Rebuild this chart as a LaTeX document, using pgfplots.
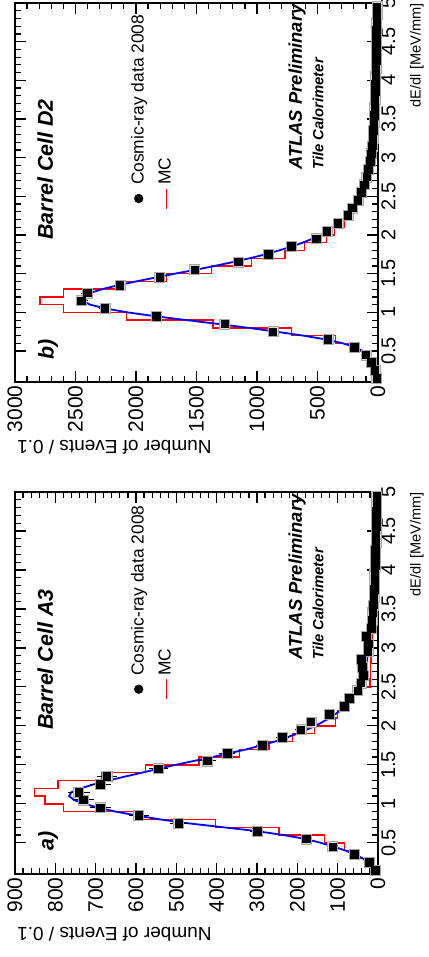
\documentclass[border=0pt]{standalone}
\usepackage{pgfplots}
\pgfplotsset{compat=1.18}
\usepackage{pgfplotstable}
\usepackage{fontspec}
\setmainfont{Liberation Sans}

% ---------------- Panel a) Barrel Cell A3 ----------------
\pgfplotstableread{
x y ey
0.15 6 2.4
0.25 22 4.7
0.35 58 7.6
0.45 112 10.6
0.55 178 13.3
0.65 299 17.3
0.75 494 22.2
0.85 593 24.4
0.95 689 26.2
1.05 730 27.0
1.15 742 27.2
1.25 689 26.2
1.35 672 25.9
1.45 544 23.3
1.55 423 20.6
1.65 374 19.3
1.75 286 16.9
1.85 237 15.4
1.95 191 13.8
2.05 166 12.9
2.15 120 11.0
2.25 83 9.1
2.35 71 8.4
2.45 50 7.1
2.55 42 6.5
2.65 36 6.0
2.75 38 6.2
2.85 41 6.4
2.95 25 5.0
3.05 24 4.9
3.15 29 5.4
3.25 17 4.1
3.35 15 3.9
3.45 13 3.6
3.55 12 3.5
3.65 10 3.2
3.75 9 3.0
3.85 8 2.8
3.95 8 2.8
4.05 7 2.6
4.15 6 2.4
4.25 6 2.4
4.35 5 2.2
4.45 5 2.2
4.55 4 2.0
4.65 4 2.0
4.75 4 2.0
4.85 3 1.7
4.95 3 1.7
}\dataA

\pgfplotstableread{
x y
0.1 10
0.2 30
0.3 50
0.4 83
0.5 133
0.6 245
0.7 403
0.8 598
0.9 780
1.0 826
1.1 851
1.2 793
1.3 685
1.4 577
1.5 444
1.6 344
1.7 270
1.8 212
1.9 157
2.0 105
2.1 100
2.2 75
2.3 60
2.4 45
2.5 20
2.6 19
2.7 18
2.8 17
2.9 16
3.0 15
3.1 13
3.2 12
3.3 11
3.4 10
3.5 9
3.6 8
3.7 8
3.8 7
3.9 7
4.0 6
4.1 6
4.2 5
4.3 5
4.4 5
4.5 4
4.6 4
4.7 4
4.8 3
4.9 3
5.0 3
}\mcA

\pgfplotstableread{
x y
0.1 2
0.15 6
0.2 14
0.25 25
0.3 38
0.35 57
0.4 80
0.45 110
0.5 142
0.55 180
0.6 235
0.65 300
0.7 385
0.75 470
0.8 540
0.85 598
0.9 650
0.95 693
1.0 728
1.05 754
1.1 766
1.15 760
1.2 736
1.25 705
1.3 668
1.35 627
1.4 585
1.45 544
1.5 502
1.6 411
1.7 325
1.8 255
1.9 200
2.0 155
2.1 120
2.2 92
2.3 72
2.4 58
2.5 47
2.6 40
2.7 34
2.8 29
3.0 22
3.25 16
3.5 12
3.75 9
4.0 7
4.5 5
5.0 3
}\fitA

% ---------------- Panel b) Barrel Cell D2 ----------------
\pgfplotstableread{
x y ey
0.15 10 3.2
0.25 25 5.0
0.35 55 7.4
0.45 100 10.0
0.55 193 13.9
0.65 413 20.3
0.75 867 29.4
0.85 1266 35.6
0.95 1830 42.8
1.05 2257 47.5
1.15 2449 49.5
1.25 2402 49.0
1.35 2133 46.2
1.45 1803 42.5
1.55 1514 38.9
1.65 1156 34.0
1.75 908 30.1
1.85 716 26.8
1.95 509 22.6
2.05 421 20.5
2.15 330 18.2
2.25 248 15.7
2.35 212 14.6
2.45 165 12.8
2.55 138 11.7
2.65 112 10.6
2.75 92 9.6
2.85 78 8.8
2.95 64 8.0
3.05 56 7.5
3.15 48 6.9
3.25 42 6.5
3.35 37 6.1
3.45 33 5.7
3.55 30 5.5
3.65 27 5.2
3.75 24 4.9
3.85 22 4.7
3.95 20 4.5
4.05 18 4.2
4.15 17 4.1
4.25 15 3.9
4.35 14 3.7
4.45 13 3.6
4.55 12 3.5
4.65 11 3.3
4.75 10 3.2
4.85 9 3.0
4.95 9 3.0
}\dataB

\pgfplotstableread{
x y
0.1 5
0.2 15
0.3 41
0.4 96
0.5 206
0.6 350
0.7 716
0.8 1362
0.9 2078
1.0 2600
1.1 2793
1.2 2600
1.3 2147
1.4 1748
1.5 1376
1.6 1046
1.7 770
1.8 605
1.9 427
2.0 358
2.1 275
2.2 234
2.3 184
2.4 151
2.5 124
2.6 100
2.7 83
2.8 70
2.9 58
3.0 50
3.1 43
3.2 38
3.3 33
3.4 29
3.5 26
3.6 23
3.7 21
3.8 19
3.9 17
4.0 16
4.1 14
4.2 13
4.3 12
4.4 11
4.5 10
4.6 10
4.7 9
4.8 8
4.9 8
5.0 8
}\mcB

\pgfplotstableread{
x y
0.1 5
0.2 18
0.3 42
0.4 80
0.45 98
0.5 125
0.55 190
0.6 290
0.65 430
0.7 620
0.75 840
0.8 1070
0.85 1320
0.9 1580
0.95 1840
1.0 2070
1.05 2250
1.1 2380
1.15 2440
1.2 2435
1.25 2380
1.3 2280
1.35 2150
1.4 2000
1.45 1840
1.5 1680
1.55 1510
1.6 1350
1.65 1200
1.7 1060
1.75 930
1.8 820
1.85 715
1.9 625
1.95 545
2.0 475
2.1 365
2.2 285
2.3 225
2.4 180
2.5 145
2.6 118
2.7 98
2.8 82
3.0 60
3.25 44
3.5 34
4.0 21
4.5 14
5.0 10
}\fitB

\tikzset{
  txtbig/.style={anchor=west, inner sep=0pt, font=\fontsize{10.7}{12}\selectfont\bfseries\itshape},
  txtatlas/.style={anchor=west, inner sep=0pt, font=\fontsize{9.2}{11}\selectfont\bfseries\itshape},
  txttile/.style={anchor=west, inner sep=0pt, font=\fontsize{7.4}{9}\selectfont\bfseries\itshape},
}

\pgfplotsset{
  atlas/.style={
    scale only axis,
    height=181.5pt,
    xmin=0.1, xmax=5, ymin=0,
    xtick={0.5,1,...,5},
    minor x tick num=4, minor y tick num=4,
    tick align=inside, tick pos=both,
    major tick length=5.5pt, minor tick length=2.8pt,
    axis line style={line width=1pt},
    every tick/.style={black, line width=0.6pt},
    /pgf/number format/assume math mode=true,
    /pgf/number format/1000 sep={},
    xticklabel style={font=\fontsize{10}{12}\selectfont, inner sep=1.5pt},
    yticklabel style={font=\fontsize{10.5}{12}\selectfont, inner sep=1.5pt},
    xlabel={dE/dl [MeV/mm]},
    xlabel style={font=\fontsize{7.3}{9}\selectfont, at={(axis description cs:1.0,-0.107)}, anchor=east, inner sep=0pt},
    ylabel={Number of Events / 0.1},
    ylabel style={font=\fontsize{9.5}{11}\selectfont, anchor=east, inner sep=0pt},
    legend cell align=left,
    legend style={draw=none, fill=none, inner sep=0pt, row sep=3pt,
      font=\fontsize{8.7}{10}\selectfont,
      at={(rel axis cs:0.455,0.69)}, anchor=north west,
      nodes={inner sep=1.5pt}},
  },
  datapts/.style={only marks, mark=square*, mark size=1.9pt, black,
    error bars/.cd, x dir=both, x fixed=0.05, y dir=both, y explicit,
    error mark=none, error bar style={line width=0.5pt, black}},
  sysbox/.style={only marks, mark=square*, mark size=2.5pt,
    mark options={fill=gray!30, draw=gray!70, line width=0.4pt}, forget plot},
  mcline/.style={red, line width=0.7pt, const plot, forget plot},
  fitline/.style={blue, line width=0.9pt, forget plot},
}

\begin{document}
\begin{tikzpicture}
\begin{scope}[transform canvas={rotate=90}]
% ---------- a) ----------
\begin{axis}[atlas, width=191pt, at={(41.5pt,25pt)}, anchor=south west,
  ymax=900, ytick={0,100,...,900},
  ylabel style={at={(axis description cs:-0.157,0.995)}}]
  \addlegendimage{legend image code/.code={\fill[black] (5pt,0pt) circle (2.1pt);}}
  \addlegendentry{Cosmic-ray data 2008}
  \addlegendimage{legend image code/.code={\draw[red, line width=0.6pt] (0pt,0pt) -- (10pt,0pt);}}
  \addlegendentry{MC}
  \addplot[sysbox] table[x=x, y=y] {\dataA};
  \addplot[mcline] table[x=x, y=y] {\mcA};
  \addplot[fitline] table[x=x, y=y] {\fitA};
  \addplot[forget plot, datapts] table[x=x, y=y, y error=ey] {\dataA};
  \node[txtbig] at (rel axis cs:0.06,0.909) {a)};
  \node[txtbig] at (rel axis cs:0.376,0.917) {Barrel Cell A3};
  \node[txtatlas] at (rel axis cs:0.56,0.223) {ATLAS Preliminary};
  \node[txttile] at (rel axis cs:0.56,0.165) {Tile Calorimeter};
\end{axis}
% ---------- b) ----------
\begin{axis}[atlas, width=189.5pt, at={(287.5pt,25pt)}, anchor=south west,
  ymax=3000, ytick={0,500,...,3000},
  ylabel style={at={(axis description cs:-0.171,0.995)}}]
  \addlegendimage{legend image code/.code={\fill[black] (5pt,0pt) circle (2.1pt);}}
  \addlegendentry{Cosmic-ray data 2008}
  \addlegendimage{legend image code/.code={\draw[red, line width=0.6pt] (0pt,0pt) -- (10pt,0pt);}}
  \addlegendentry{MC}
  \addplot[sysbox] table[x=x, y=y] {\dataB};
  \addplot[mcline] table[x=x, y=y] {\mcB};
  \addplot[fitline] table[x=x, y=y] {\fitB};
  \addplot[forget plot, datapts] table[x=x, y=y, y error=ey] {\dataB};
  \node[txtbig] at (rel axis cs:0.058,0.909) {b)};
  \node[txtbig] at (rel axis cs:0.375,0.917) {Barrel Cell D2};
  \node[txtatlas] at (rel axis cs:0.559,0.223) {ATLAS Preliminary};
  \node[txttile] at (rel axis cs:0.559,0.165) {Tile Calorimeter};
\end{axis}
\end{scope}
\pgfresetboundingbox
\path[use as bounding box] (-214pt,0pt) rectangle (0pt,478.5pt);
\end{tikzpicture}
\end{document}
